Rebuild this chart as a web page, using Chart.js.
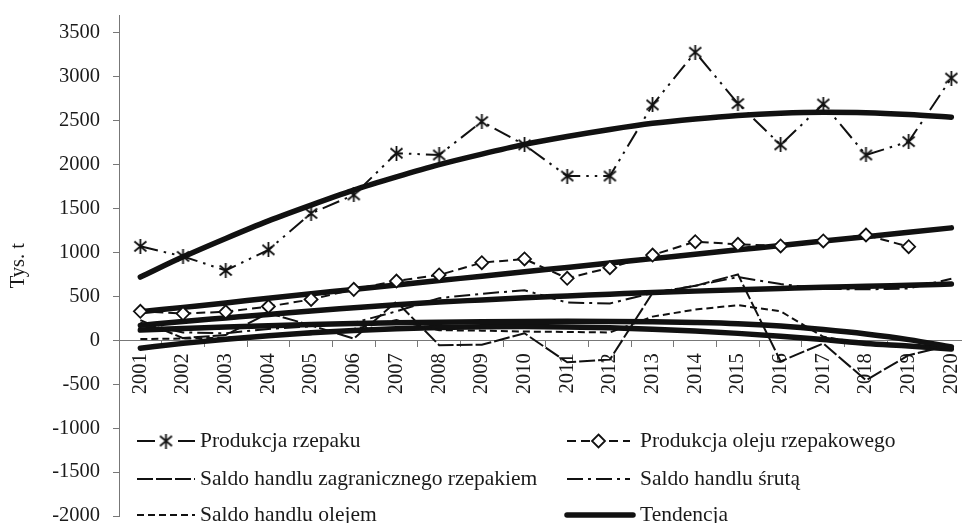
<!DOCTYPE html>
<html>
<head>
<meta charset="utf-8">
<script src="https://cdn.jsdelivr.net/npm/chart.js@4.4.0/dist/chart.umd.min.js"></script>
<style>
html,body{margin:0;padding:0;overflow:hidden;background:#fff;width:962px;height:523px}
#wrap{position:absolute;left:0;top:-10px;width:1000px;height:560px}
</style>
</head>
<body>
<div id="wrap"><canvas id="c" width="1000" height="560" style="width:1000px;height:560px"></canvas></div>
<script>
// ---- data (Tys. t) ----
const years = ['2001','2002','2003','2004','2005','2006','2007','2008','2009','2010','2011','2012','2013','2014','2015','2016','2017','2018','2019','2020'];
const prodRzepaku = [1070, 955, 795, 1030, 1445, 1655, 2130, 2110, 2490, 2225, 1870, 1870, 2680, 3280, 2695, 2225, 2690, 2110, 2262, 2985];
const prodOleju = [330, 305, 325, 385, 465, 580, 675, 744, 884, 926, 706, 827, 971, 1123, 1093, 1074, 1131, 1199, 1066, null];
const saldoRzepak = [230, 25, 60, 310, 170, 20, 440, -55, -50, 80, -250, -220, 540, 620, 750, -240, -35, -455, -170, -50];
const saldoSruta = [200, 90, 80, 130, 160, 200, 330, 480, 530, 570, 430, 420, 540, 620, 720, 640, 585, 580, 590, 700];
const saldoOlej = [15, 20, 30, 45, 70, 130, 230, 115, 110, 100, 95, 90, 270, 350, 400, 330, 40, -40, -60, -90];
const trendRzepaku = [720, 950, 1160, 1360, 1540, 1710, 1860, 2000, 2120, 2230, 2320, 2400, 2470, 2520, 2560, 2585, 2595, 2590, 2570, 2540];
const trendOleju = [325, 375, 425, 480, 530, 580, 630, 680, 730, 780, 830, 880, 930, 980, 1030, 1080, 1130, 1180, 1230, 1280];
const trendSruta = [170, 215, 255, 295, 335, 370, 405, 435, 460, 485, 505, 525, 545, 560, 575, 590, 605, 615, 628, 640];
const trendSaldoRzepak = [117, 135, 152, 167, 180, 191, 200, 207, 212, 215, 216, 215, 211, 203, 189, 162, 122, 72, 8, -75];
const trendSaldoOlej = [-90, -35, 12, 52, 85, 112, 132, 146, 154, 156, 152, 142, 127, 106, 79, 47, 9, -35, -65, -100];
const yTicks = [-2000, -1500, -1000, -500, 0, 500, 1000, 1500, 2000, 2500, 3000, 3500];
const legendLabels = ['Produkcja rzepaku', 'Produkcja oleju rzepakowego', 'Saldo handlu zagranicznego rzepakiem', 'Saldo handlu śrutą', 'Saldo handlu olejem', 'Tendencja'];

// ---- styles ----
const INK = '#111';
const AXIS = '#777';
const TXT = '#1a1a1a';
const FONT = 'Liberation Serif';
const SHIFT = 10; // canvas is placed 10px above the page top

function makeStar(size, lw) {
  const c = document.createElement('canvas');
  c.width = size; c.height = size;
  const g = c.getContext('2d');
  g.strokeStyle = INK; g.lineWidth = lw;
  const m = 1.5;
  g.beginPath();
  g.moveTo(m, m + 1); g.lineTo(size - m, size - m - 1);
  g.moveTo(size - m, m + 1); g.lineTo(m, size - m - 1);
  g.moveTo(size / 2, 0); g.lineTo(size / 2, size);
  g.stroke();
  return c;
}
const star = makeStar(15, 1.8);

const lineBase = {fill: false, tension: 0, borderColor: INK, pointRadius: 0, borderWidth: 2, order: 0};
const trendBase = {fill: false, borderColor: INK, borderWidth: 5.5, pointRadius: 0, cubicInterpolationMode: 'monotone', borderCapStyle: 'round', order: 1};

const datasets = [
  Object.assign({}, lineBase, {label: legendLabels[0], data: prodRzepaku, borderDash: [18, 6, 2.5, 6, 2.5, 6], pointStyle: star, pointRadius: 7}),
  Object.assign({}, lineBase, {label: legendLabels[1], data: prodOleju, borderDash: [9, 5], pointStyle: 'rectRot', pointRadius: 6.5, pointBorderWidth: 1.8, pointBackgroundColor: '#fff', pointBorderColor: INK}),
  Object.assign({}, lineBase, {label: legendLabels[2], data: saldoRzepak, borderDash: [16, 3]}),
  Object.assign({}, lineBase, {label: legendLabels[3], data: saldoSruta, borderDash: [16, 5, 3, 5]}),
  Object.assign({}, lineBase, {label: legendLabels[4], data: saldoOlej, borderDash: [7, 4]}),
  Object.assign({}, trendBase, {label: legendLabels[5], data: trendRzepaku}),
  Object.assign({}, trendBase, {label: legendLabels[5], data: trendOleju}),
  Object.assign({}, trendBase, {label: legendLabels[5], data: trendSruta}),
  Object.assign({}, trendBase, {label: legendLabels[5], data: trendSaldoRzepak}),
  Object.assign({}, trendBase, {label: legendLabels[5], data: trendSaldoOlej})
];

// ---- custom in-plot legend (Excel style, 2 columns) ----
const legendPlugin = {
  id: 'excelLegend',
  afterDraw(chart) {
    const ctx = chart.ctx;
    const rows = [441 + SHIFT, 479 + SHIFT, 515 + SHIFT];
    const cols = [{x1: 137, x2: 195, tx: 200}, {x1: 567, x2: 630, tx: 640}];
    ctx.save();
    ctx.font = '21.5px "' + FONT + '"';
    ctx.textBaseline = 'middle';
    ctx.textAlign = 'left';
    [0, 1, 2, 3, 4, 5].forEach((di, i) => {
      const ds = chart.data.datasets[di];
      const col = cols[i % 2];
      const y = rows[Math.floor(i / 2)];
      ctx.save();
      ctx.strokeStyle = ds.borderColor;
      ctx.lineWidth = ds.borderWidth;
      ctx.lineCap = di === 5 ? 'round' : 'butt';
      ctx.setLineDash(ds.borderDash || []);
      ctx.beginPath();
      ctx.moveTo(col.x1, y);
      ctx.lineTo(col.x2 + (di === 5 ? 3 : 0), y);
      ctx.stroke();
      ctx.setLineDash([]);
      const cx = (col.x1 + col.x2) / 2;
      if (ds.pointStyle === 'rectRot') {
        ctx.fillStyle = '#fff'; ctx.strokeStyle = INK; ctx.lineWidth = 1.8;
        ctx.beginPath();
        ctx.moveTo(cx, y - 6.5); ctx.lineTo(cx + 6.5, y); ctx.lineTo(cx, y + 6.5); ctx.lineTo(cx - 6.5, y); ctx.closePath();
        ctx.fill(); ctx.stroke();
      } else if (ds.pointStyle && typeof ds.pointStyle === 'object') {
        ctx.fillStyle = '#fff';
        ctx.fillRect(cx - 8, y - 8, 16, 16);
        ctx.drawImage(ds.pointStyle, cx - ds.pointStyle.width / 2, y - ds.pointStyle.height / 2);
      }
      ctx.restore();
      ctx.fillStyle = TXT;
      ctx.fillText(legendLabels[i], col.tx, y);
    });
    ctx.restore();
  }
};

new Chart(document.getElementById('c'), {
  type: 'line',
  data: {labels: years, datasets: datasets},
  options: {
    responsive: false,
    animation: false,
    events: [],
    layout: {padding: {left: 0, top: 25, right: 27.3, bottom: 34}},
    plugins: {legend: {display: false}, tooltip: {enabled: false}},
    scales: {
      x: {
        type: 'category',
        position: {y: 0},
        offset: true,
        grid: {offset: true, drawOnChartArea: false, drawTicks: true, tickLength: 6, color: AXIS, lineWidth: 1},
        border: {display: true, color: AXIS, width: 1},
        ticks: {autoSkip: false, maxRotation: 90, minRotation: 90, padding: 7, color: TXT, font: {family: FONT, size: 20.5}}
      },
      y: {
        type: 'linear',
        position: 'left',
        min: -2000,
        max: 3700,
        afterBuildTicks: s => { s.ticks = yTicks.map(v => ({value: v})); },
        afterFit: s => { s.width = 119; },
        grid: {drawOnChartArea: false, drawTicks: true, tickLength: 6, color: AXIS, lineWidth: 1},
        border: {display: true, color: AXIS, width: 1},
        ticks: {padding: 13, color: TXT, font: {family: FONT, size: 20.5}, callback: v => String(v)},
        title: {display: true, text: 'Tys. t', color: TXT, font: {family: FONT, size: 20.5}, padding: {top: 6, bottom: 0}}
      }
    }
  },
  plugins: [legendPlugin]
});
</script>
</body>
</html>
